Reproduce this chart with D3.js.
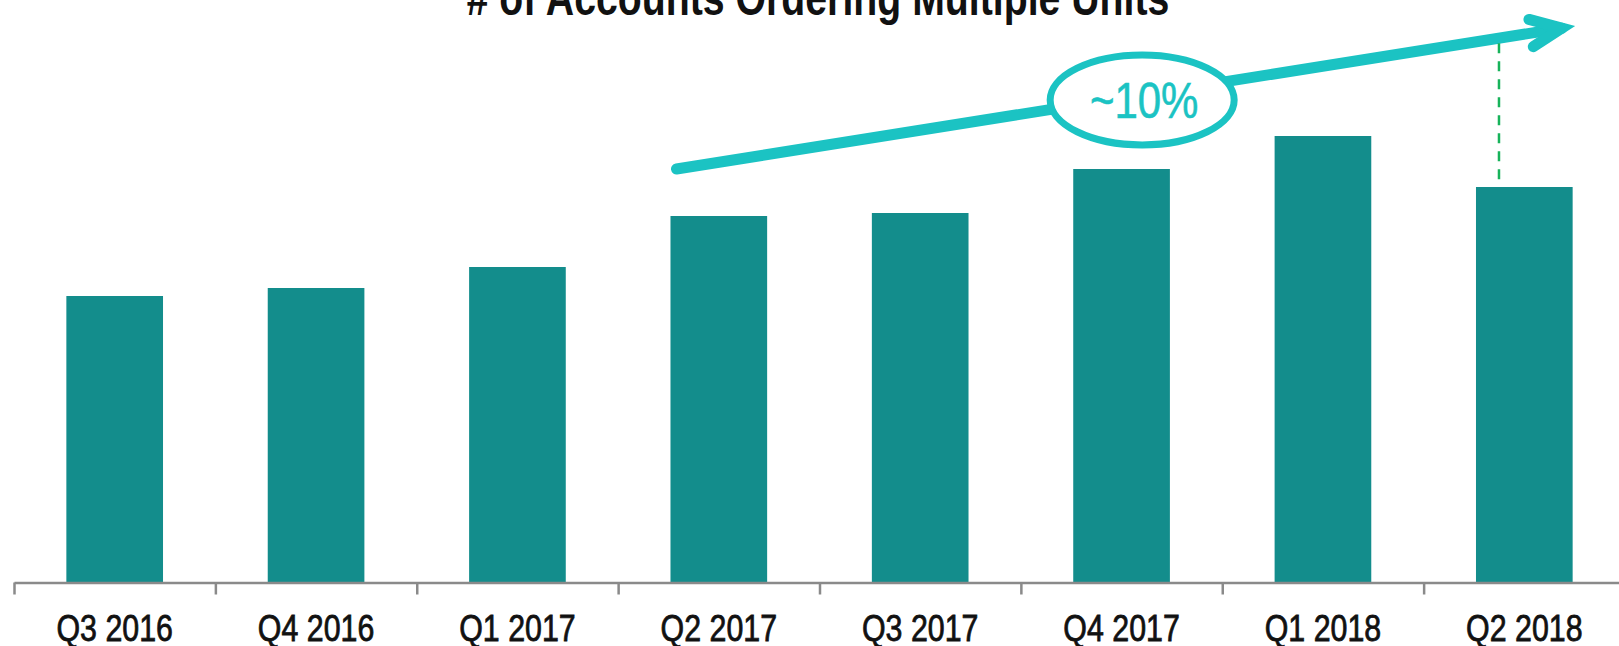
<!DOCTYPE html>
<html>
<head>
<meta charset="utf-8">
<script src="https://cdn.jsdelivr.net/npm/d3@7"></script>
<style>
  body { margin: 0; background: #fff; }
  svg { display: block; }
  .narrow { font-family: "Liberation Sans", Arial, sans-serif; }
</style>
</head>
<body>
<svg id="chart"></svg>
<script>
// <========================== data ==============================>
const categories = ["Q3 2016", "Q4 2016", "Q1 2017", "Q2 2017", "Q3 2017", "Q4 2017", "Q1 2018", "Q2 2018"];
const accounts = [286, 294, 315, 366, 369, 413, 446, 395];
const title = "# of Accounts Ordering Multiple Units";
const growthLabel = "~10%";
// trend arrow goes from the left edge of Q2 2017 to the right edge of Q2 2018
const arrowFrom = ["Q2 2017", 413];
const arrowTo = ["Q2 2018", 556];

// <========================== sizes ==============================>
const width = 1619;
const height = 646;
const margin = { top: 82, right: -6, bottom: 64, left: 14 };
const innerHeight = height - margin.top - margin.bottom;

const barColor = "#138d8c";
const arrowColor = "#1bc3c3";
const axisColor = "#8a8a8a";

const svg = d3.select("#chart").attr("width", width).attr("height", height);

// <========================== scales ==============================>
const x = d3.scaleBand()
  .domain(categories)
  .range([margin.left, width - margin.right])
  .paddingInner(0.52)
  .paddingOuter(0.26);

const y = d3.scaleLinear()
  .domain([0, 500])
  .range([margin.top + innerHeight, margin.top]);

// band edges for the tick marks between categories
const xEdge = d3.scaleLinear().domain([0, categories.length]).range(x.range());

// <========================== bars ==============================>
svg.append("g")
  .selectAll("rect")
  .data(categories)
  .join("rect")
  .attr("x", d => x(d))
  .attr("y", (d, i) => y(accounts[i]))
  .attr("width", x.bandwidth())
  .attr("height", (d, i) => y(0) - y(accounts[i]))
  .attr("fill", barColor);

// <========================== axis ==============================>
const axisY = y(0) + 0.5;

const edgeAxis = svg.append("g")
  .attr("transform", `translate(0,${axisY})`)
  .call(d3.axisBottom(xEdge).tickValues(d3.range(categories.length + 1)).tickFormat("").tickSize(12).tickSizeOuter(0));
edgeAxis.select(".domain").attr("stroke", axisColor).attr("stroke-width", 2.5);
edgeAxis.selectAll(".tick line").attr("stroke", axisColor).attr("stroke-width", 2.5);

const labelAxis = svg.append("g")
  .attr("transform", `translate(0,${axisY})`)
  .call(d3.axisBottom(x).tickSize(0).tickPadding(32));
labelAxis.select(".domain").remove();
labelAxis.selectAll("text")
  .attr("class", "narrow")
  .attr("font-size", 37)
  .attr("fill", "#111")
  .attr("stroke", "#111")
  .attr("stroke-width", 0.8)
  .attr("transform", "scale(0.82,1)");

// <========================== title ==============================>
svg.append("text")
  .attr("class", "narrow")
  .attr("transform", "translate(818,15) scale(0.785,1)")
  .attr("text-anchor", "middle")
  .attr("font-size", 50)
  .attr("font-weight", "bold")
  .attr("fill", "#111")
  .text(title);

// <========================== trend arrow ==============================>
const x0 = x(arrowFrom[0]) + 6;
const y0 = y(arrowFrom[1]);
const tipX = x(arrowTo[0]) + x.bandwidth() + 3;
const tipY = y(arrowTo[1]);
const ang = Math.atan2(tipY - y0, tipX - x0);
const vx = tipX - 14 * Math.cos(ang);
const vy = tipY - 14 * Math.sin(ang);

const arrow = svg.append("g")
  .attr("fill", "none")
  .attr("stroke", arrowColor)
  .attr("stroke-width", 11)
  .attr("stroke-linecap", "round");

// dashed marker from the arrow down to the last bar
const dashX = x(arrowTo[0]) + 23;
const dashTop = y0 + (dashX - x0) * Math.tan(ang) + 5;
svg.append("line")
  .attr("x1", dashX).attr("x2", dashX)
  .attr("y1", dashTop).attr("y2", y(accounts[accounts.length - 1]))
  .attr("stroke", "#17b35a")
  .attr("stroke-width", 2.5)
  .attr("stroke-dasharray", "10,8");

arrow.append("line")
  .attr("x1", x0).attr("y1", y0)
  .attr("x2", vx).attr("y2", vy);

const head = 34;
const spread = 24 * Math.PI / 180;
arrow.append("path")
  .attr("stroke-linejoin", "miter")
  .attr("stroke-miterlimit", 10)
  .attr("d", d3.line()([
    [vx - head * Math.cos(ang - spread), vy - head * Math.sin(ang - spread)],
    [vx, vy],
    [vx - head * Math.cos(ang + spread), vy - head * Math.sin(ang + spread)]
  ]));

// ellipse badge around the growth label
const t = 0.526;
const ex = x0 + t * (vx - x0);
const ey = y0 + t * (vy - y0) + 5;
svg.append("ellipse")
  .attr("cx", ex).attr("cy", ey)
  .attr("rx", 92).attr("ry", 45)
  .attr("fill", "#fff")
  .attr("stroke", arrowColor)
  .attr("stroke-width", 7);

svg.append("text")
  .attr("class", "narrow")
  .attr("transform", `translate(${ex + 2},${ey + 18}) scale(0.84,1)`)
  .attr("text-anchor", "middle")
  .attr("font-size", 50)
  .attr("fill", arrowColor)
  .attr("stroke", arrowColor)
  .attr("stroke-width", 0.6)
  .text(growthLabel);
</script>
</body>
</html>
